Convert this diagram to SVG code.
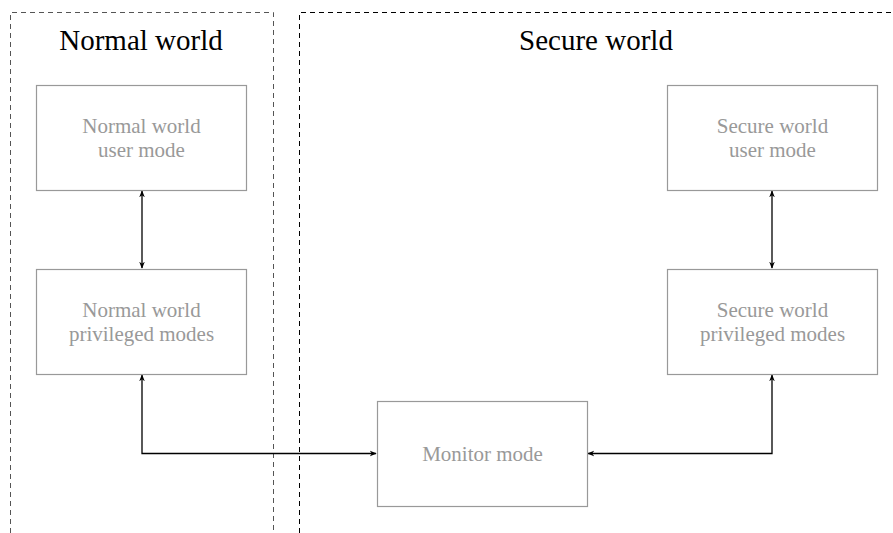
<svg xmlns="http://www.w3.org/2000/svg" width="893" height="533" viewBox="0 0 893 533">
<style>
.region{fill:none;stroke:#000;stroke-width:1;stroke-dasharray:5,4}
.box{fill:#fff;stroke:#999;stroke-width:1.2}
.conn{fill:none;stroke:#000;stroke-width:1.3}
</style>
<defs>
<marker id="ah" viewBox="0 0 10 10" refX="9" refY="5" markerWidth="7" markerHeight="7" orient="auto-start-reverse" markerUnits="userSpaceOnUse">
<path d="M0,1 L10,5 L0,9 L3,5 Z" fill="#000"/>
</marker>
</defs>
<g id="regions">
<path class="region" d="M10.5,533 V12.5 H273.5 V533" style="stroke:#555"/>
<path class="region" d="M299.5,533 V12.5 H893"/>
<g font-family="'Liberation Serif', serif" font-size="29" fill="#000" text-anchor="middle">
<text x="141" y="50">Normal world</text>
<text x="596" y="50">Secure world</text>
</g>
</g>
<g id="connectors">
<path class="conn" d="M142,191 V268" marker-start="url(#ah)" marker-end="url(#ah)"/>
<path class="conn" d="M772,191 V268" marker-start="url(#ah)" marker-end="url(#ah)"/>
<path class="conn" d="M142,375 V453.5 H376" marker-start="url(#ah)" marker-end="url(#ah)"/>
<path class="conn" d="M772,375 V453.5 H588" marker-start="url(#ah)" marker-end="url(#ah)"/>
</g>
<g font-family="'Liberation Serif', serif" font-size="21" fill="#999" text-anchor="middle">
<g id="nw-user">
<rect class="box" x="36.5" y="85.5" width="210" height="105"/>
<text x="141.5" y="133">Normal world</text>
<text x="141.5" y="157">user mode</text>
</g>
<g id="nw-priv">
<rect class="box" x="36.5" y="269.5" width="210" height="105"/>
<text x="141.5" y="317">Normal world</text>
<text x="141.5" y="341">privileged modes</text>
</g>
<g id="sw-user">
<rect class="box" x="667.5" y="85.5" width="210" height="105"/>
<text x="772.5" y="133">Secure world</text>
<text x="772.5" y="157">user mode</text>
</g>
<g id="sw-priv">
<rect class="box" x="667.5" y="269.5" width="210" height="105"/>
<text x="772.5" y="317">Secure world</text>
<text x="772.5" y="341">privileged modes</text>
</g>
<g id="monitor">
<rect class="box" x="377.5" y="401.5" width="210" height="105"/>
<text x="482.5" y="461">Monitor mode</text>
</g>
</g>
</svg>
